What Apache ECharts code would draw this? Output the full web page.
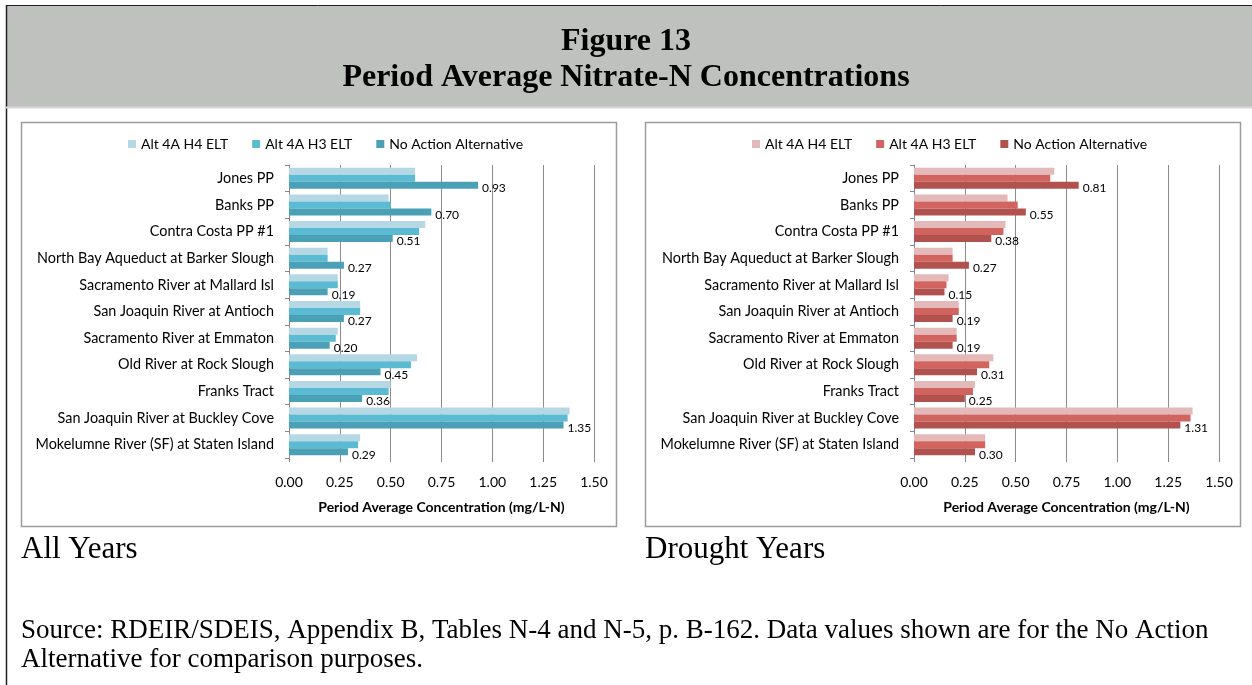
<!DOCTYPE html>
<html>
<head>
<meta charset="utf-8">
<script src="https://cdn.jsdelivr.net/npm/echarts@6/dist/echarts.min.js"></script>
<style>
  html, body { margin: 0; padding: 0; background: #fff; }
  #main { width: 1252px; height: 685px; }
</style>
</head>
<body>
<div id="main"></div>
<script>
// categories, top to bottom
var sites = [
  'Jones PP', 'Banks PP', 'Contra Costa PP #1', 'North Bay Aqueduct at Barker Slough',
  'Sacramento River at Mallard Isl', 'San Joaquin River at Antioch', 'Sacramento River at Emmaton',
  'Old River at Rock Slough', 'Franks Tract', 'San Joaquin River at Buckley Cove',
  'Mokelumne River (SF) at Staten Island'
];
var seriesNames = ['Alt 4A H4 ELT', 'Alt 4A H3 ELT', 'No Action Alternative'];

// all years
var allH4 = [0.62, 0.49, 0.67, 0.19, 0.24, 0.35, 0.24, 0.63, 0.50, 1.38, 0.35];
var allH3 = [0.62, 0.50, 0.64, 0.19, 0.24, 0.35, 0.23, 0.60, 0.49, 1.37, 0.34];
var allNA = [0.93, 0.70, 0.51, 0.27, 0.19, 0.27, 0.20, 0.45, 0.36, 1.35, 0.29];

// drought years
var drH4 = [0.69, 0.46, 0.45, 0.19, 0.17, 0.22, 0.21, 0.39, 0.30, 1.37, 0.35];
var drH3 = [0.67, 0.51, 0.44, 0.19, 0.16, 0.22, 0.21, 0.37, 0.29, 1.36, 0.35];
var drNA = [0.81, 0.55, 0.38, 0.27, 0.15, 0.19, 0.19, 0.31, 0.25, 1.31, 0.30];

var blues = ['#b6d8e4', '#5bbbd3', '#4aa0b5'];
var reds = ['#e4b9b9', '#d1645f', '#b2524f'];

var chartFont = 'Lato, "Open Sans", sans-serif';
var serifFont = '"Liberation Serif", "DejaVu Serif", serif';

var myChart = echarts.init(document.getElementById('main'));

function makeSeries(idx, vals, colors) {
  return vals.map(function (v, i) {
    return {
      name: seriesNames[i],
      type: 'bar',
      xAxisIndex: idx,
      yAxisIndex: idx,
      data: v,
      barWidth: 7,
      barGap: '0%',
      itemStyle: { color: colors[i] },
      label: i === 2 ? {
        show: true,
        position: 'right',
        distance: 4,
        offset: [0, 3],
        fontSize: 12,
        fontFamily: chartFont,
        color: '#000',
        formatter: function (p) { return p.value.toFixed(2); }
      } : { show: false }
    };
  });
}

function makeX(idx) {
  return {
    type: 'value',
    gridIndex: idx,
    min: 0,
    max: 1.5,
    interval: 0.25,
    name: 'Period Average Concentration (mg/L-N)',
    nameLocation: 'middle',
    nameGap: 42,
    nameTextStyle: { fontSize: 14, fontWeight: 'bold', fontFamily: chartFont, color: '#000' },
    axisLine: { show: false },
    axisTick: { show: true, length: 4, lineStyle: { color: '#888' } },
    axisLabel: {
      fontSize: 14, fontFamily: chartFont, color: '#000', margin: 17,
      formatter: function (v) { return v.toFixed(2); }
    },
    splitLine: { show: true, lineStyle: { color: '#8c8c8c', width: 1 } }
  };
}

function makeY(idx) {
  return {
    type: 'category',
    gridIndex: idx,
    data: sites,
    inverse: true,
    axisLine: { show: true, lineStyle: { color: '#888' } },
    axisTick: { show: true, length: 4, lineStyle: { color: '#888' } },
    axisLabel: { fontSize: 14.4, fontFamily: chartFont, color: '#000', margin: 15 }
  };
}

var option = {
  animation: false,
  backgroundColor: '#fff',
  graphic: [
    // header band
    { type: 'rect', shape: { x: 6, y: 5, width: 1246, height: 102 }, style: { fill: '#bfc1bf' } },
    { type: 'line', shape: { x1: 6, y1: 5.5, x2: 1252, y2: 5.5 }, style: { stroke: '#222', lineWidth: 1 } },
    { type: 'line', shape: { x1: 6.5, y1: 5, x2: 6.5, y2: 685 }, style: { stroke: '#222', lineWidth: 1.5 } },
    { type: 'line', shape: { x1: 6, y1: 107.5, x2: 1252, y2: 107.5 }, style: { stroke: '#d8d8d8', lineWidth: 2 } },
    { type: 'text', left: 'center', top: 26, style: { text: 'Figure 13', font: 'bold 32px ' + serifFont, fill: '#000' } },
    { type: 'text', left: 'center', top: 62, style: { text: 'Period Average Nitrate-N Concentrations', font: 'bold 32px ' + serifFont, fill: '#000' } },
    // chart panels
    { type: 'rect', shape: { x: 21.5, y: 122.5, width: 595, height: 404 }, style: { fill: 'none', stroke: '#9c9c9c', lineWidth: 1.5 } },
    { type: 'rect', shape: { x: 645.5, y: 122.5, width: 595, height: 404 }, style: { fill: 'none', stroke: '#9c9c9c', lineWidth: 1.5 } },
    // captions
    { type: 'text', left: 21, top: 534, style: { text: 'All Years', font: '31px ' + serifFont, fill: '#000' } },
    { type: 'text', left: 645, top: 534, style: { text: 'Drought Years', font: '31px ' + serifFont, fill: '#000' } },
    { type: 'text', left: 21, top: 617, style: { text: 'Source: RDEIR/SDEIS, Appendix B, Tables N-4 and N-5, p. B-162. Data values shown are for the No Action', font: '27px ' + serifFont, fill: '#000' } },
    { type: 'text', left: 21, top: 646, style: { text: 'Alternative for comparison purposes.', font: '27px ' + serifFont, fill: '#000' } }
  ],
  legend: [
    {
      data: seriesNames.map(function (n, i) { return { name: n, itemStyle: { color: blues[i] } }; }),
      left: 123, top: 132,
      icon: 'rect', itemWidth: 8, itemHeight: 8, itemGap: 24,
      textStyle: { fontSize: 14, fontFamily: chartFont, color: '#000' }
    },
    {
      data: seriesNames.map(function (n, i) { return { name: n, itemStyle: { color: reds[i] } }; }),
      left: 747, top: 132,
      icon: 'rect', itemWidth: 8, itemHeight: 8, itemGap: 24,
      textStyle: { fontSize: 14, fontFamily: chartFont, color: '#000' }
    }
  ],
  grid: [
    { left: 289, width: 305, top: 165, height: 293 },
    { left: 914, width: 305, top: 165, height: 293 }
  ],
  xAxis: [makeX(0), makeX(1)],
  yAxis: [makeY(0), makeY(1)],
  series: makeSeries(0, [allH4, allH3, allNA], blues).concat(makeSeries(1, [drH4, drH3, drNA], reds))
};

myChart.setOption(option);
</script>
</body>
</html>
